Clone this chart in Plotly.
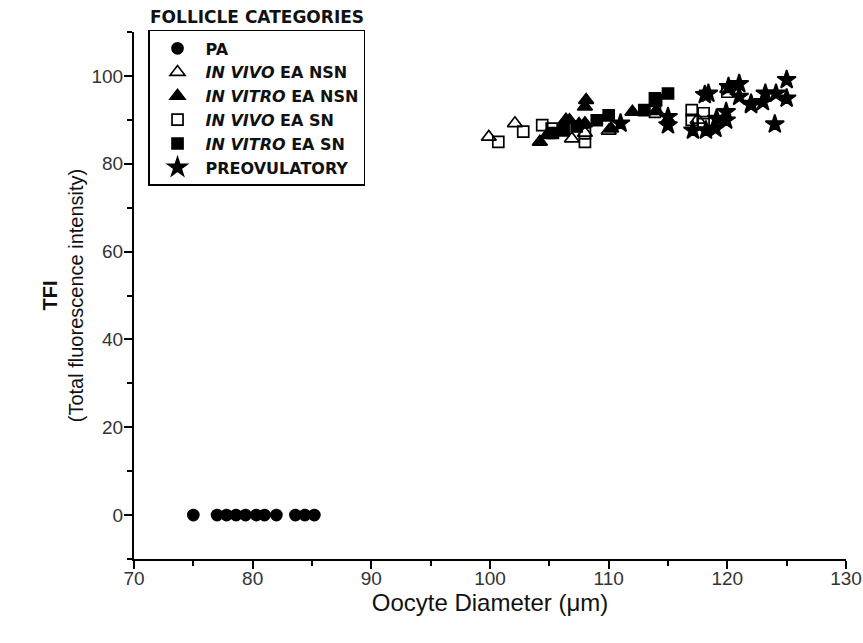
import plotly.graph_objects as go

# ---------------- data ----------------
pa_x = [75.0, 77.0, 77.8, 78.6, 79.4, 80.3, 81.0, 82.0, 83.6, 84.4, 85.2]
pa_y = [0, 0, 0, 0, 0, 0, 0, 0, 0, 0, 0]

vivo_nsn_x = [99.9, 102.1, 106.9, 108.0, 110.0, 117.5, 120.0]
vivo_nsn_y = [86.1, 89.2, 85.7, 87.0, 87.5, 90.0, 97.0]

vitro_nsn_x = [104.2, 104.8, 106.4, 106.7, 107.5, 108.1, 108.0, 108.0, 110.2, 112.0, 114.0, 115.0]
vitro_nsn_y = [85.0, 86.5, 90.0, 89.9, 89.0, 94.5, 93.0, 89.2, 88.0, 91.8, 92.0, 90.0]

vivo_sn_x = [100.7, 102.8, 104.4, 105.2, 108.0, 108.0, 113.9, 117.0, 118.0, 117.0, 118.0, 120.0]
vivo_sn_y = [85.0, 87.3, 88.8, 88.0, 85.0, 86.9, 91.8, 92.2, 91.5, 90.0, 89.5, 96.4]

vitro_sn_x = [105.3, 106.2, 107.3, 109.0, 110.0, 113.0, 113.9, 114.0, 115.0]
vitro_sn_y = [87.0, 87.6, 88.5, 89.9, 91.0, 92.2, 94.9, 94.5, 96.0]

preov_x = [111.0, 115.0, 115.0, 117.1, 118.2, 118.1, 118.4, 119.0, 119.1, 119.9, 119.9,
           120.1, 121.0, 121.0, 122.0, 122.0, 123.0, 123.2, 124.1, 124.0, 125.0, 125.0]
preov_y = [89.2, 90.7, 88.8, 87.6, 87.6, 95.7, 96.0, 88.0, 90.3, 91.8, 89.9,
           97.5, 98.2, 95.3, 93.7, 93.4, 94.1, 96.0, 96.0, 89.0, 99.1, 94.9]

x_ticks = [70, 80, 90, 100, 110, 120, 130]
y_ticks = [0, 20, 40, 60, 80, 100]

FONT = "Liberation Sans, Arial, sans-serif"
LEGFONT = "DejaVu Sans, Verdana, sans-serif"

fig = go.Figure()

def add(x, y, name, symbol, size):
    fig.add_trace(go.Scatter(
        x=x, y=y, mode="markers", name=name,
        marker=dict(symbol=symbol, size=size, color="black",
                    line=dict(color="black", width=1.7)),
    ))

add(pa_x, pa_y, "PA", "circle", 11)
add(vivo_nsn_x, vivo_nsn_y, "<i>IN VIVO</i> EA NSN", "triangle-up-open", 13)
add(vitro_nsn_x, vitro_nsn_y, "<i>IN VITRO</i> EA NSN", "triangle-up", 13)
add(vivo_sn_x, vivo_sn_y, "<i>IN VIVO</i> EA SN", "square-open", 11)
add(vitro_sn_x, vitro_sn_y, "<i>IN VITRO</i> EA SN", "square", 11)
add(preov_x, preov_y, "PREOVULATORY", "star", 14)

axis_common = dict(
    showline=True, linecolor="black", linewidth=2, mirror=False,
    ticks="outside", ticklen=8, tickwidth=2, tickcolor="black",
    showgrid=False, zeroline=False, automargin=False,
    tickfont=dict(family=FONT, size=19, color="#333"),
)

fig.update_xaxes(
    range=[70, 130], tickvals=x_ticks, ticklabelstandoff=-7,
    minor=dict(dtick=5, tick0=70, ticks="outside", ticklen=5, tickwidth=2, tickcolor="black"),
    title=dict(text="Oocyte Diameter (μm)", font=dict(family=FONT, size=24, color="#111"), standoff=4),
    **axis_common,
)
fig.update_yaxes(
    range=[-10, 110], tickvals=y_ticks, ticklabelstandoff=-3,
    minor=dict(dtick=10, tick0=0, ticks="outside", ticklen=5, tickwidth=2, tickcolor="black"),
    title=dict(text="<b>TFI</b><br>(Total fluorescence intensity)",
               font=dict(family=FONT, size=20, color="#111"), standoff=2),
    **axis_common,
)

fig.update_layout(
    width=863, height=643,
    margin=dict(l=134, r=17, t=32, b=84, autoexpand=False),
    paper_bgcolor="white", plot_bgcolor="white",
    showlegend=True,
    legend=dict(
        x=0.0197, y=1.004, xanchor="left", yanchor="top",
        bordercolor="black", borderwidth=1.5, bgcolor="white",
        font=dict(family=LEGFONT, size=16, color="#111", weight="bold"),
        itemsizing="trace", itemwidth=46,
    ),
    annotations=[dict(
        text="<b>FOLLICLE CATEGORIES</b>", xref="paper", yref="paper",
        x=0.0197, y=1.0, xanchor="left", yanchor="bottom", yshift=3,
        showarrow=False, font=dict(family=LEGFONT, size=17, color="#111"),
    )],
)

fig.write_html("out.html", config={"displayModeBar": False},
               post_script="document.body.style.margin='0';")
